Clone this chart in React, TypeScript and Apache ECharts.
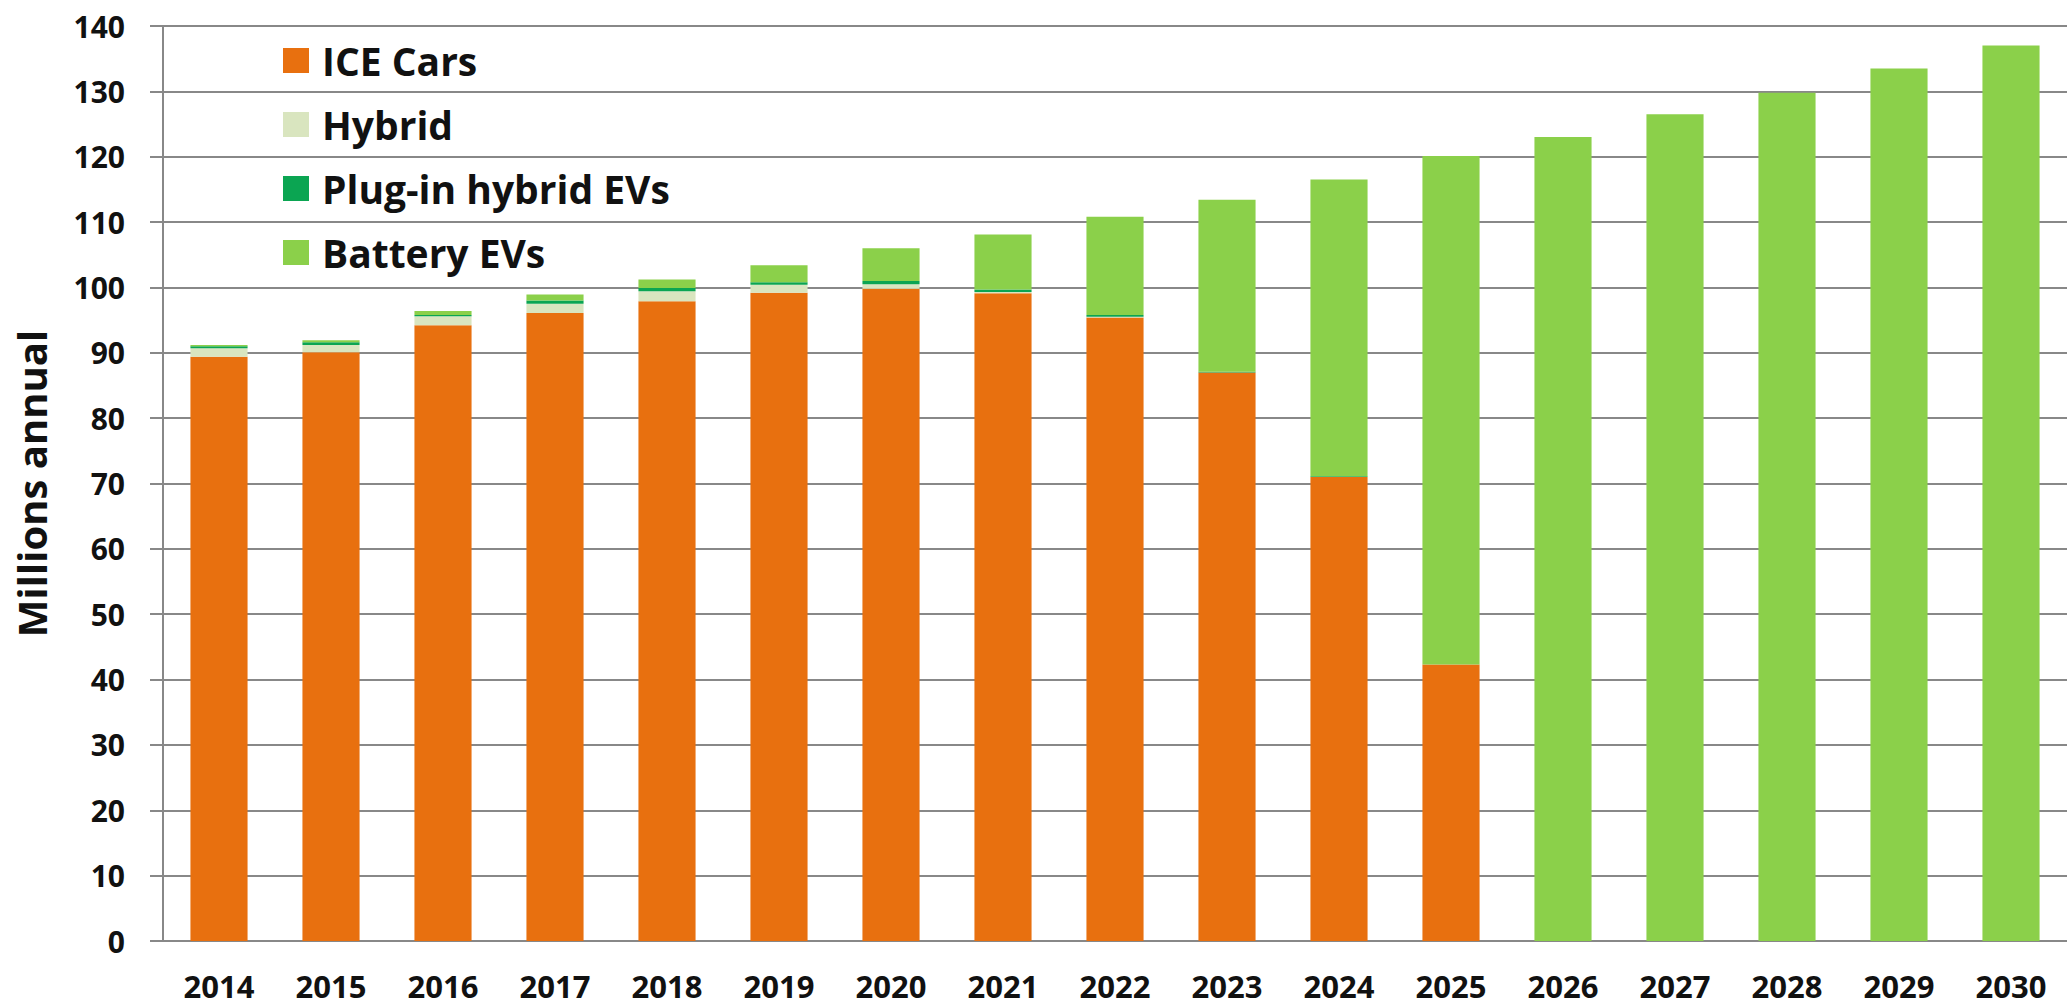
import React, { useEffect, useRef } from "react";
import * as echarts from "echarts";

const years = ["2014","2015","2016","2017","2018","2019","2020","2021","2022","2023","2024","2025","2026","2027","2028","2029","2030"];
const iceCars = [89.4, 90.1, 94.2, 96.1, 97.9, 99.2, 99.8, 99.1, 95.4, 87.0, 71.0, 42.3, 0, 0, 0, 0, 0];
const hybrid = [1.3, 1.1, 1.4, 1.4, 1.5, 1.2, 0.7, 0.2, 0.1, 0, 0, 0, 0, 0, 0, 0, 0];
const plugInHybrid = [0.3, 0.4, 0.2, 0.5, 0.5, 0.4, 0.5, 0.4, 0.3, 0.1, 0.1, 0, 0, 0, 0, 0, 0];
const batteryEVs = [0.2, 0.3, 0.6, 0.9, 1.3, 2.6, 5.0, 8.4, 15.0, 26.3, 45.4, 77.8, 123.0, 126.5, 129.8, 133.5, 137.0];

const FONT = "Open Sans";

export default function App() {
  const ref = useRef<HTMLDivElement>(null);
  useEffect(() => {
    document.body.style.margin = "0";
    const chart = echarts.init(ref.current!, null, { renderer: "svg" });
    const mk = (name: string, data: number[], color: string) => ({
      name,
      type: "bar",
      stack: "total",
      data,
      barWidth: "51%",
      itemStyle: { color },
    });
    chart.setOption({
      animation: false,
      backgroundColor: "#ffffff",
      textStyle: { fontFamily: FONT },
      grid: { left: 163, top: 26, bottom: 66, width: 1909 },
      legend: {
        orient: "vertical",
        left: 283,
        top: 41,
        padding: 0,
        itemWidth: 26,
        itemHeight: 25,
        itemGap: 25,
        icon: "rect",
        selectedMode: false,
        textStyle: { fontFamily: FONT, fontWeight: "bold", fontSize: 39, lineHeight: 25, color: "#111", padding: [0, 0, 0, 8] },
        data: ["ICE Cars", "Hybrid", "Plug-in hybrid EVs", "Battery EVs"],
      },
      xAxis: {
        type: "category",
        data: years,
        axisLine: { show: true, lineStyle: { color: "#888", width: 2 } },
        axisTick: { show: false },
        axisLabel: { fontFamily: FONT, fontWeight: "bold", fontSize: 31, lineHeight: 34, color: "#111", margin: 28 },
      },
      yAxis: {
        type: "value",
        min: 0,
        max: 140,
        interval: 10,
        name: "Millions annual",
        nameLocation: "middle",
        nameGap: 112,
        nameTextStyle: { fontFamily: FONT, fontWeight: "bold", fontSize: 40, color: "#111" },
        axisLine: { show: true, lineStyle: { color: "#888", width: 2 } },
        axisTick: { show: true, length: 13, lineStyle: { color: "#888", width: 2 } },
        splitLine: { show: true, lineStyle: { color: "#888", width: 2 } },
        axisLabel: { fontFamily: FONT, fontWeight: "bold", fontSize: 30, color: "#111", margin: 38 },
      },
      series: [
        mk("ICE Cars", iceCars, "#e8700f"),
        mk("Hybrid", hybrid, "#d9e5bf"),
        mk("Plug-in hybrid EVs", plugInHybrid, "#0ba552"),
        mk("Battery EVs", batteryEVs, "#8bd04a"),
      ],
    });
    return () => chart.dispose();
  }, []);
  return <div ref={ref} style={{ width: 2067, height: 1007 }} />;
}
